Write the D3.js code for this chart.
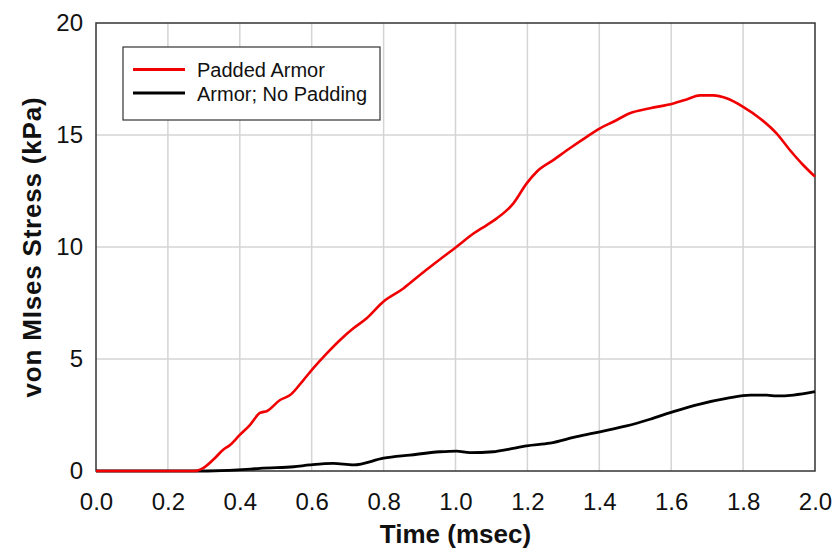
<!DOCTYPE html>
<html>
<head>
<meta charset="utf-8">
<script src="https://cdn.jsdelivr.net/npm/d3@7"></script>
<style>
  html, body { margin: 0; padding: 0; background: #fff; }
  svg { display: block; font-family: "Liberation Sans", Arial, sans-serif; }
</style>
</head>
<body>
<svg id="chart" width="837" height="552"></svg>
<script>
// Stress histories at the measurement point (time in msec, stress in kPa)
const paddedTime = [0, 0.2, 0.275, 0.298, 0.331, 0.353, 0.373, 0.40, 0.428, 0.456, 0.476, 0.512, 0.54, 0.577,
  0.604, 0.642, 0.679, 0.716, 0.753, 0.799, 0.855, 0.901, 0.948, 1.003, 1.05, 1.087, 1.115, 1.14,
  1.161, 1.198, 1.226, 1.272, 1.318, 1.365, 1.402, 1.439, 1.485, 1.541, 1.606, 1.643, 1.68, 1.717,
  1.754, 1.80, 1.847, 1.893, 1.93, 1.967, 2.0];
const paddedStress = [0, 0, 0, 0.13, 0.58, 0.94, 1.16, 1.61, 2.05, 2.59, 2.68, 3.17, 3.39, 4.06,
  4.58, 5.25, 5.85, 6.37, 6.82, 7.56, 8.15, 8.75, 9.34, 10.01, 10.6, 10.98, 11.28, 11.6,
  11.95, 12.84, 13.36, 13.88, 14.41, 14.92, 15.30, 15.59, 15.97, 16.19, 16.41, 16.59, 16.77, 16.77,
  16.64, 16.26, 15.74, 15.07, 14.33, 13.66, 13.14];

const bareTime = [0, 0.2, 0.31, 0.43, 0.456, 0.55, 0.595, 0.66, 0.716, 0.80, 0.873, 0.957, 1.003, 1.04,
  1.105, 1.147, 1.198, 1.263, 1.337, 1.402, 1.476, 1.541, 1.606, 1.68, 1.754, 1.82, 1.866, 1.893,
  1.94, 2.0];
const bareStress = [0, 0, 0, 0.08, 0.12, 0.19, 0.27, 0.34, 0.27, 0.57, 0.71, 0.86, 0.89, 0.82,
  0.86, 0.97, 1.12, 1.24, 1.53, 1.75, 2.01, 2.31, 2.65, 2.99, 3.24, 3.39, 3.39, 3.35,
  3.39, 3.54];

const xTicks = [0, 0.2, 0.4, 0.6, 0.8, 1.0, 1.2, 1.4, 1.6, 1.8, 2.0];
const yTicks = [0, 5, 10, 15, 20];
const seriesNames = ["Padded Armor", "Armor; No Padding"];
const seriesColors = ["#f00000", "#000000"];

const margin = { left: 96, top: 23, right: 837 - 815, bottom: 552 - 471 };
const width = 837 - margin.left - margin.right;
const height = 552 - margin.top - margin.bottom;

const svg = d3.select("#chart");
const g = svg.append("g").attr("transform", `translate(${margin.left},${margin.top})`);

const x = d3.scaleLinear().domain([0, 2]).range([0, width]);
const y = d3.scaleLinear().domain([0, 20]).range([height, 0]);

// Grid lines
g.append("g").selectAll("line").data(xTicks.slice(1, -1)).join("line")
  .attr("x1", d => x(d)).attr("x2", d => x(d))
  .attr("y1", 0).attr("y2", height)
  .attr("stroke", "#d4d4d4").attr("stroke-width", 1.5);
g.append("g").selectAll("line").data(yTicks.slice(1, -1)).join("line")
  .attr("x1", 0).attr("x2", width)
  .attr("y1", d => y(d)).attr("y2", d => y(d))
  .attr("stroke", "#d4d4d4").attr("stroke-width", 1.5);

// Axes (labels only)
const xAxis = g.append("g").attr("transform", `translate(0,${height})`)
  .call(d3.axisBottom(x).tickValues(xTicks).tickFormat(d3.format(".1f")).tickSize(0).tickPadding(22));
const yAxis = g.append("g")
  .call(d3.axisLeft(y).tickValues(yTicks).tickFormat(d3.format("d")).tickSize(0).tickPadding(13));
[xAxis, yAxis].forEach(a => {
  a.select(".domain").remove();
  a.selectAll("text").attr("font-size", 24).attr("fill", "#111")
    .attr("font-family", "'Liberation Sans', Arial, sans-serif");
});

// Plot frame
g.append("rect").attr("x", 0).attr("y", 0).attr("width", width).attr("height", height)
  .attr("fill", "none").attr("stroke", "#333").attr("stroke-width", 1.5);

// Curves
const line = d3.line().x(d => x(d[0])).y(d => y(d[1])).curve(d3.curveMonotoneX);
const series = [
  d3.zip(paddedTime, paddedStress),
  d3.zip(bareTime, bareStress)
];
g.append("path").datum(series[1]).attr("d", line)
  .attr("fill", "none").attr("stroke", seriesColors[1]).attr("stroke-width", 2.8)
  .attr("stroke-linejoin", "round");
g.append("path").datum(series[0]).attr("d", line)
  .attr("fill", "none").attr("stroke", seriesColors[0]).attr("stroke-width", 2.6)
  .attr("stroke-linejoin", "round");

// Legend
const legend = g.append("g").attr("transform", "translate(27,24)");
legend.append("rect").attr("width", 257).attr("height", 73)
  .attr("fill", "#fff").attr("stroke", "#333").attr("stroke-width", 1.2);
seriesNames.forEach((name, i) => {
  const ly = 22.5 + i * 23.5;
  legend.append("line").attr("x1", 10).attr("x2", 62).attr("y1", ly).attr("y2", ly)
    .attr("stroke", seriesColors[i]).attr("stroke-width", 2.8);
  legend.append("text").attr("x", 74).attr("y", ly + 7.5).attr("font-size", 20)
    .attr("fill", "#111").text(name);
});

// Axis titles
svg.append("text").attr("x", margin.left + width / 2).attr("y", 543)
  .attr("text-anchor", "middle").attr("font-size", 26).attr("font-weight", "bold")
  .attr("fill", "#111").text("Time (msec)");
svg.append("text")
  .attr("transform", `translate(41,${margin.top + height / 2}) rotate(-90)`)
  .attr("text-anchor", "middle").attr("font-size", 26).attr("font-weight", "bold")
  .attr("letter-spacing", 0.8)
  .attr("fill", "#111").text("von MIses Stress (kPa)");
</script>
</body>
</html>
